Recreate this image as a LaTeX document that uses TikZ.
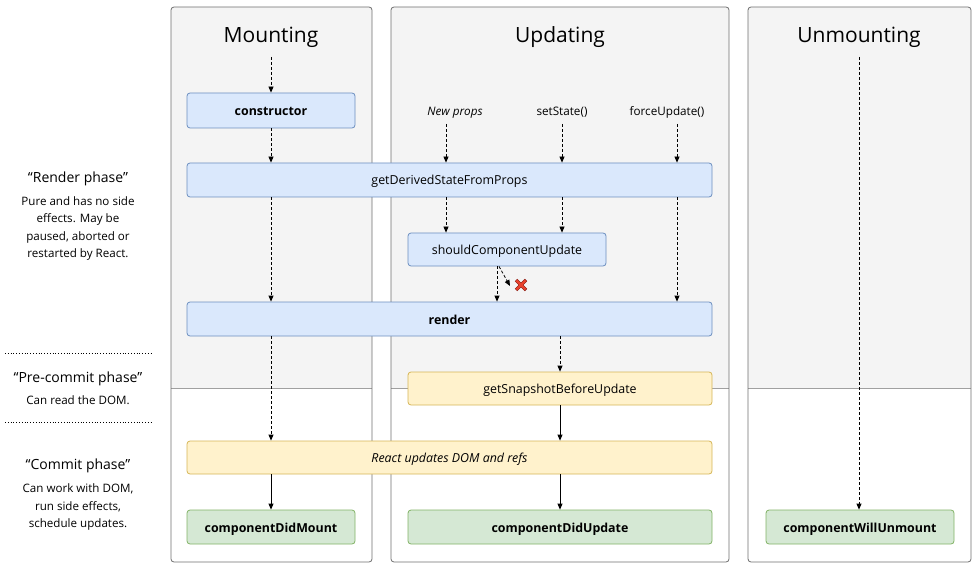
\documentclass[tikz,border=0pt]{standalone}
\usepackage{fontspec}
\setmainfont{Open Sans}
\usetikzlibrary{arrows.meta,calc}
\definecolor{panelgray}{HTML}{F4F4F4}
\definecolor{panelline}{HTML}{6E6E6E}
\definecolor{sepline}{HTML}{A0A0A0}
\definecolor{bluefill}{HTML}{DAE8FC}
\definecolor{bluedraw}{HTML}{6C8EBF}
\definecolor{yelfill}{HTML}{FFF2CC}
\definecolor{yeldraw}{HTML}{D6B656}
\definecolor{grnfill}{HTML}{D5E8D4}
\definecolor{grndraw}{HTML}{82B366}
\definecolor{xred}{HTML}{E8412C}
\definecolor{xdark}{HTML}{8A1A10}
\tikzset{
  box/.style={rectangle, rounded corners=3pt, line width=0.8pt, inner sep=0pt,
    text height=10pt, text depth=0pt, font=\fontsize{12.4}{14}\selectfont},
  bluebox/.style={box, fill=bluefill, draw=bluedraw},
  yelbox/.style={box, fill=yelfill, draw=yeldraw},
  grnbox/.style={box, fill=grnfill, draw=grndraw},
  boldtext/.style={font=\fontsize{12.4}{14}\selectfont\bfseries},
  ittext/.style={font=\fontsize{12.4}{14}\selectfont\itshape},
  title/.style={anchor=base, font=\fontsize{21}{24}\selectfont},
  trig/.style={anchor=base, font=\fontsize{11.7}{13}\selectfont},
  dasharrow/.style={line width=0.8pt, dash pattern=on 3pt off 2pt, -{Triangle[length=6pt,width=5pt]}},
  solidarrow/.style={line width=0.8pt, -{Triangle[length=6pt,width=5pt]}},
  phase/.style={anchor=base, font=\fontsize{14}{16}\selectfont},
  phasetext/.style={align=center, font=\fontsize{11.6}{17.4}\selectfont},
  panel/.style={draw=panelline, line width=0.8pt, rounded corners=3pt},
}
\begin{document}
\begin{tikzpicture}[x=1pt,y=-1pt]
\useasboundingbox (0,0) rectangle (979,569);
% panels
\foreach \l/\r in {171/372, 391/729, 748/971}{
  \fill[panelgray, rounded corners=3pt] (\l,7) rectangle (\r,388);
  \fill[panelgray] (\l,100) rectangle (\r,388);
  \draw[sepline, line width=0.8pt] (\l,388) -- (\r,388);
  \draw[panel] (\l,7) rectangle (\r,562);
}
% titles
\node[title] (tmount) at (271,43) {Mounting};
\node[title] (tupd) at (560,43) {Updating};
\node[title] (tunm) at (859,43) {Unmounting};
\coordinate (smount) at (271,57);
\coordinate (sunm) at (859,57);
% triggers
\node[trig, font=\fontsize{11.7}{13}\selectfont\itshape] (np) at (455,116) {New props};
\node[trig] (ss) at (562,116) {setState()};
\node[trig] (fu) at (667,116) {forceUpdate()};
\coordinate (xnp) at (446,124);
\coordinate (xss) at (562,124);
\coordinate (xfu) at (677,124);
% nodes
\node[bluebox, boldtext, minimum width=168, minimum height=35] (ctor) at (271,110.5) {constructor};
\node[bluebox, minimum width=525, minimum height=34] (gd) at (449.5,180) {getDerivedStateFromProps};
\node[bluebox, minimum width=198, minimum height=33] (scu) at (507,249.5) {shouldComponentUpdate};
\node[bluebox, boldtext, minimum width=525, minimum height=34] (rend) at (449.5,319) {render};
\node[yelbox, minimum width=304, minimum height=33] (gsbu) at (560,388.5) {getSnapshotBeforeUpdate};
\node[yelbox, ittext, minimum width=525, minimum height=33] (rud) at (449.5,457.5) {React updates DOM and refs};
\node[grnbox, boldtext, minimum width=168, minimum height=34] (cdm) at (271,527) {componentDidMount};
\node[grnbox, boldtext, minimum width=304, minimum height=34] (cdu) at (560,527) {componentDidUpdate};
\node[grnbox, boldtext, minimum width=188, minimum height=34] (cwu) at (860,527) {componentWillUnmount};
% mounting arrows
\draw[dasharrow] (smount) -- (ctor.north);
\draw[dasharrow] (ctor.south) -- (gd.north -| ctor.south);
\draw[dasharrow] (gd.south -| ctor.south) -- (rend.north -| ctor.south);
\draw[dasharrow] (rend.south -| ctor.south) -- (rud.north -| ctor.south);
\draw[solidarrow] (rud.south -| ctor.south) -- (cdm.north);
% updating arrows
\draw[dasharrow] (xnp) -- (gd.north -| xnp);
\draw[dasharrow] (xss) -- (gd.north -| xss);
\draw[dasharrow] (xfu) -- (gd.north -| xfu);
\draw[dasharrow] (gd.south -| xnp) -- (scu.north -| xnp);
\draw[dasharrow] (gd.south -| xss) -- (scu.north -| xss);
\draw[dasharrow] (gd.south -| xfu) -- (rend.north -| xfu);
\coordinate (xscu) at (497,0);
\draw[dasharrow] (scu.south -| xscu) -- (rend.north -| xscu);
\coordinate (xdiag) at (499,0);
\coordinate (dend) at (510,286);
\draw[dasharrow] (scu.south -| xdiag) -- (dend);
\coordinate (xmark) at (521,285);
\draw[xdark, line width=3.4pt] ($(xmark)+(-5,-5)$) -- ($(xmark)+(5,5)$) ($(xmark)+(-5,5)$) -- ($(xmark)+(5,-5)$);
\draw[xred, line width=2.2pt] ($(xmark)+(-4.6,-4.6)$) -- ($(xmark)+(4.6,4.6)$) ($(xmark)+(-4.6,4.6)$) -- ($(xmark)+(4.6,-4.6)$);
\draw[dasharrow] (rend.south -| gsbu.north) -- (gsbu.north);
\draw[solidarrow] (gsbu.south) -- (rud.north -| gsbu.south);
\draw[solidarrow] (rud.south -| gsbu.south) -- (cdu.north);
% unmounting
\draw[dasharrow] (sunm) -- (cwu.north -| sunm);
% left phase labels
\node[phase] (rp) at (78,183) {“Render phase”};
\node[phasetext, anchor=north] (rpt) at (78,193) {Pure and has no side\\effects. May be\\paused, aborted or\\restarted by React.};
\coordinate (d1a) at (5,353); \coordinate (d1b) at (152,353);
\coordinate (d2a) at (5,422); \coordinate (d2b) at (152,422);
\draw[line width=0.8pt, dotted] (d1a) -- (d1b);
\draw[line width=0.8pt, dotted] (d2a) -- (d2b);
\node[phase] (pcp) at (78,382) {“Pre-commit phase”};
\node[phasetext, anchor=base] (pcpt) at (78,404) {Can read the DOM.};
\node[phase] (cp) at (78,469) {“Commit phase”};
\node[phasetext, anchor=north] (cpt) at (78,480.5) {Can work with DOM,\\run side effects,\\schedule updates.};
\end{tikzpicture}
\end{document}
